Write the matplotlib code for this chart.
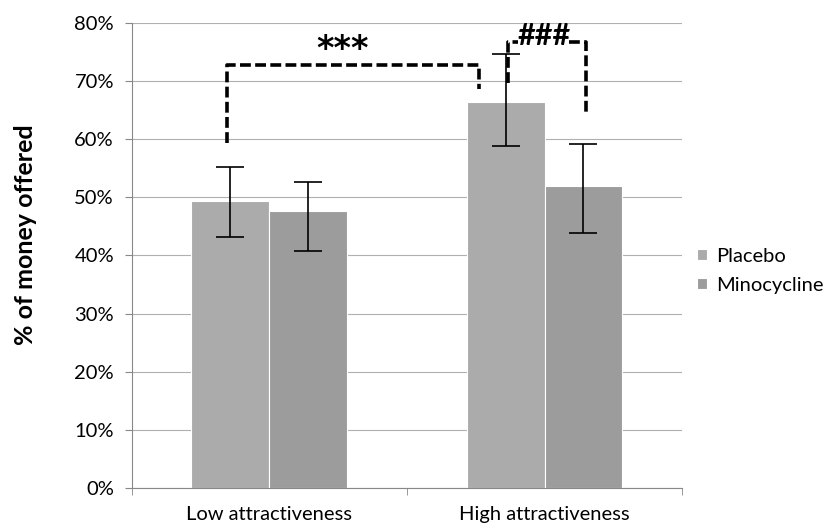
import matplotlib
matplotlib.use("Agg")
import matplotlib.pyplot as plt
from matplotlib import font_manager
import numpy as np

categories = ["Low attractiveness", "High attractiveness"]
series = ["Placebo", "Minocycline"]
placebo = [49.3, 66.4]
placebo_lo = [43.1, 58.9]
placebo_hi = [55.3, 74.6]
mino = [47.7, 52.0]
mino_lo = [40.7, 43.9]
mino_hi = [52.6, 59.1]
yticks = [0, 10, 20, 30, 40, 50, 60, 70, 80]

plt.rcParams['font.family'] = ['Lato', 'DejaVu Sans']
installed = {f.name for f in font_manager.fontManager.ttflist}
hash_font = 'Liberation Sans Narrow' if 'Liberation Sans Narrow' in installed else 'Lato'

fig = plt.figure(figsize=(8.3, 5.28), dpi=100)
ax = fig.add_axes([0.159, 0.0758, 0.6627, 0.8806])

x = np.arange(len(categories))
w = 0.2836
c_pl = "#ababab"
c_mi = "#9c9c9c"

ax.set_axisbelow(True)
ax.yaxis.grid(True, color="#b0b0b0", linewidth=0.8)

ax.bar(x - w/2, placebo, w, color=c_pl, edgecolor="white", linewidth=0.8, label=series[0], zorder=2)
ax.bar(x + w/2, mino, w, color=c_mi, edgecolor="white", linewidth=0.8, label=series[1], zorder=2)

pl = np.array(placebo); mi = np.array(mino)
ax.errorbar(x - w/2, pl, yerr=[pl - np.array(placebo_lo), np.array(placebo_hi) - pl],
            fmt="none", ecolor="black", elinewidth=1.2, capsize=10, capthick=1.2, zorder=3)
ax.errorbar(x + w/2, mi, yerr=[mi - np.array(mino_lo), np.array(mino_hi) - mi],
            fmt="none", ecolor="black", elinewidth=1.2, capsize=10, capthick=1.2, zorder=3)

# significance brackets
dash = dict(color="black", linewidth=2.6, linestyle=(0, (3, 1.2)), zorder=4, solid_capstyle="butt")
ax.plot([-0.156, -0.156, 0.761, 0.761], [59.3, 72.8, 72.8, 68.6], **dash)
ax.text(0.265, 75.4, "***", ha="center", va="center", fontsize=24, fontweight="bold", family="DejaVu Sans")
ax.plot([0.867, 0.867, 0.905], [69.6, 76.8, 76.8], **dash)
ax.plot([1.09, 1.150, 1.150], [76.8, 76.8, 64.2], **dash)
ax.text(0.997, 76.3, "###", ha="center", va="baseline", fontsize=22, fontweight="bold", family=hash_font)

ax.set_xlim(-0.5, 1.5)
ax.set_ylim(0, 80)
ax.set_yticks(yticks)
ax.set_yticklabels([f"{t}%" for t in yticks], fontsize=14.5)
ax.set_xticks(x)
ax.set_xticklabels(categories, fontsize=14.5)
ax.tick_params(axis="x", length=0, pad=13)
ax.set_xticks([-0.5, 0.5, 1.5], minor=True)
ax.tick_params(axis="x", which="minor", length=5, color="#888888", direction="out")
ax.tick_params(axis="y", length=5, color="#888888", direction="out", pad=8)

for s in ["top", "right"]:
    ax.spines[s].set_visible(False)
for s in ["left", "bottom"]:
    ax.spines[s].set_color("#888888")
    ax.spines[s].set_linewidth(0.8)

ax.set_ylabel("% of money offered", fontsize=18, fontweight="bold")
ax.yaxis.set_label_coords(-0.173, 0.544)

ax.legend(loc="center left", bbox_to_anchor=(0.995, 0.467), frameon=False, fontsize=14.5,
          handlelength=0.5, handleheight=0.5, handletextpad=0.45, labelspacing=0.6)

fig.savefig("out.png", dpi=100)
